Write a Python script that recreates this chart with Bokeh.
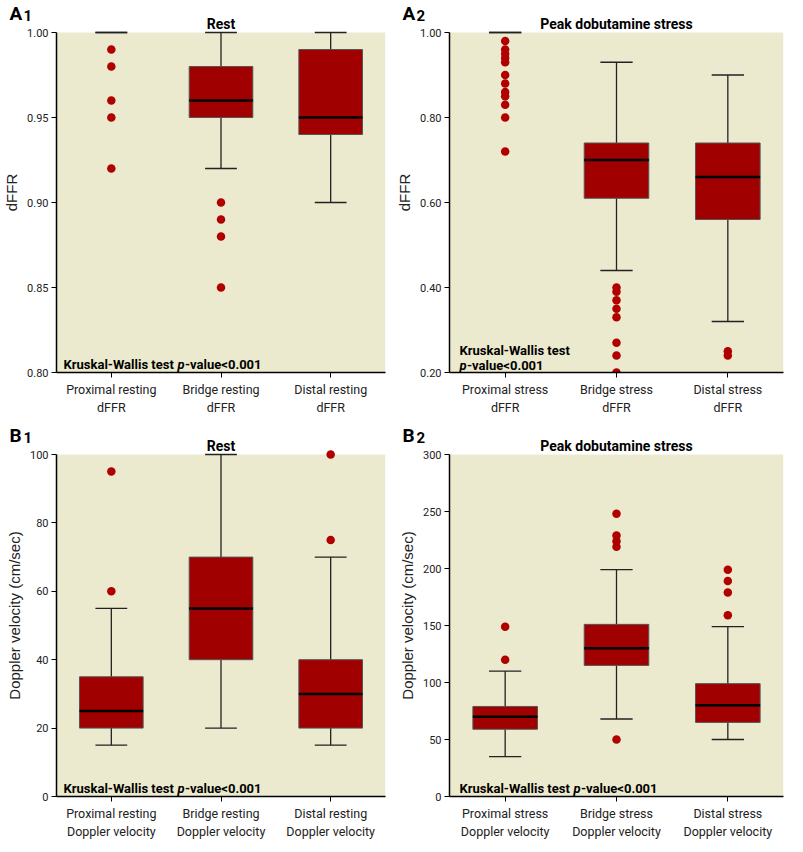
from bokeh.plotting import figure
from bokeh.layouts import gridplot
from bokeh.models import (Range1d, FactorRange, FixedTicker, Label, Title, NumeralTickFormatter,
                          ColumnDataSource, BoxAnnotation)
from bokeh.transform import dodge
from bokeh.embed import file_html
from bokeh.resources import INLINE

NARROW = "Roboto"
REG = "Liberation Sans"

# ---------------- data ----------------
a1_categories = ["Proximal resting\ndFFR", "Bridge resting\ndFFR", "Distal resting\ndFFR"]
a1_lower = [1.00, 0.92, 0.90]
a1_q1 = [1.00, 0.95, 0.94]
a1_median = [1.00, 0.96, 0.95]
a1_q3 = [1.00, 0.98, 0.99]
a1_upper = [1.00, 1.00, 1.00]
a1_outliers = [[0.99, 0.98, 0.96, 0.95, 0.92], [0.90, 0.89, 0.88, 0.85], []]
a1_ticks = [0.80, 0.85, 0.90, 0.95, 1.00]

a2_categories = ["Proximal stress\ndFFR", "Bridge stress\ndFFR", "Distal stress\ndFFR"]
a2_lower = [1.00, 0.44, 0.32]
a2_q1 = [1.00, 0.61, 0.56]
a2_median = [1.00, 0.70, 0.66]
a2_q3 = [1.00, 0.74, 0.74]
a2_upper = [1.00, 0.93, 0.90]
a2_outliers = [[0.98, 0.96, 0.95, 0.94, 0.93, 0.90, 0.88, 0.86, 0.85, 0.83, 0.80, 0.72],
               [0.40, 0.39, 0.37, 0.35, 0.33, 0.27, 0.24, 0.20],
               [0.25, 0.24]]
a2_ticks = [0.20, 0.40, 0.60, 0.80, 1.00]

b1_categories = ["Proximal resting\nDoppler velocity", "Bridge resting\nDoppler velocity",
                 "Distal resting\nDoppler velocity"]
b1_lower = [15, 20, 15]
b1_q1 = [20, 40, 20]
b1_median = [25, 55, 30]
b1_q3 = [35, 70, 40]
b1_upper = [55, 100, 70]
b1_outliers = [[95, 60], [], [100, 75]]
b1_ticks = [0, 20, 40, 60, 80, 100]

b2_categories = ["Proximal stress\nDoppler velocity", "Bridge stress\nDoppler velocity",
                 "Distal stress\nDoppler velocity"]
b2_lower = [35, 68, 50]
b2_q1 = [59, 115, 65]
b2_median = [70, 130, 80]
b2_q3 = [79, 151, 99]
b2_upper = [110, 199, 149]
b2_outliers = [[149, 120], [248, 229, 224, 219, 50], [199, 189, 179, 159]]
b2_ticks = [0, 50, 100, 150, 200, 250, 300]

BG = "#ECEACE"
BOX = "#A00000"
DOT = "#B00000"


def tag_title(text, size, offset, standoff):
    t = Title(text=text, align="left", offset=offset, text_font=NARROW, text_font_style="bold",
              text_font_size=size, text_color="black")
    try:
        t.standoff = standoff
    except Exception:
        t.standoff = 0
    return t


def panel(cats, lower, q1, med, q3, upper, outliers, yr, ticks, fmt, ylabel, title,
          letter, num, kw_lines, width, height, bl, br, frame_top, data_top):
    bb = 46
    ymin, ymax = yr
    span_px = height - bb - data_top
    ext = (ymax - ymin) * (data_top - frame_top) / span_px
    p = figure(width=width, height=height, x_range=FactorRange(*cats),
               y_range=Range1d(ymin, ymax + ext),
               output_backend="svg", toolbar_location=None, tools="",
               min_border_left=bl, min_border_right=br, min_border_top=frame_top,
               min_border_bottom=bb)
    p.background_fill_color = "white"
    p.border_fill_color = "white"
    p.outline_line_color = None
    p.grid.visible = False
    p.x_range.range_padding = 0
    p.title.visible = False

    p.add_layout(BoxAnnotation(bottom=ymin, top=ymax, fill_color=BG, fill_alpha=1,
                               line_color=None, level="underlay"))

    # panel tag: large letter + smaller digit
    p.add_layout(tag_title(letter, "19px", -47, -24), "above")
    p.add_layout(tag_title(num, "15px", -33, -19.5), "above")

    # panel title
    p.add_layout(Label(x=1.5, y=ymax + (ymax - ymin) * 9 / span_px, text=title,
                       text_align="center", text_baseline="alphabetic",
                       text_font=NARROW, text_font_style="bold", text_font_size="14px",
                       text_color="black"))

    for ax in (p.xaxis[0], p.yaxis[0]):
        ax.axis_line_color = "black"
        ax.axis_line_width = 1.5
        ax.major_tick_line_color = "black"
        ax.major_tick_out = 5
        ax.major_tick_in = 0
        ax.minor_tick_line_color = None
        ax.major_label_text_font = NARROW
        ax.major_label_text_color = "#222222"
    p.yaxis.bounds = (ymin, ymax)
    p.yaxis.ticker = FixedTicker(ticks=ticks)
    p.yaxis.formatter = NumeralTickFormatter(format=fmt)
    p.yaxis.major_label_text_font_size = "11px"
    p.yaxis.major_label_standoff = 3
    p.yaxis.axis_label = ylabel
    p.yaxis.axis_label_text_font = REG
    p.yaxis.axis_label_text_font_style = "normal"
    p.yaxis.axis_label_text_font_size = "15px"
    p.yaxis.axis_label_text_color = "#222222"
    p.yaxis.axis_label_standoff = 4
    p.xaxis.major_label_text_font_size = "12.5px"
    p.xaxis.major_label_standoff = 4

    # boxes (skip degenerate boxes)
    idx = [i for i in range(len(cats)) if q3[i] != q1[i]]
    box = ColumnDataSource(dict(x=[cats[i] for i in idx], q1=[q1[i] for i in idx],
                                q3=[q3[i] for i in idx], med=[med[i] for i in idx]))
    src = ColumnDataSource(dict(x=cats, lower=lower, q1=q1, q3=q3, upper=upper))

    p.segment(x0="x", x1="x", y0="q3", y1="upper", source=src, line_color="#222222", line_width=1.3)
    p.segment(x0="x", x1="x", y0="lower", y1="q1", source=src, line_color="#222222", line_width=1.3)
    for key in ("upper", "lower"):
        p.segment(x0=dodge("x", -0.145, range=p.x_range), x1=dodge("x", 0.145, range=p.x_range),
                  y0=key, y1=key, source=src, line_color="#222222", line_width=1.3)
    p.vbar(x="x", top="q3", bottom="q1", width=0.58, source=box,
           fill_color=BOX, line_color="#555555", line_width=1)
    p.segment(x0=dodge("x", -0.29, range=p.x_range), x1=dodge("x", 0.29, range=p.x_range),
              y0="med", y1="med", source=box, line_color="black", line_width=2.5)

    ox, oy = [], []
    for c, vals in zip(cats, outliers):
        for v in vals:
            ox.append(c)
            oy.append(v)
    p.scatter(x=ox, y=oy, size=8.5, fill_color=DOT, line_color=None)

    # Kruskal-Wallis text
    for (x0, y0, pieces) in kw_lines:
        x = x0
        for txt, style, w in pieces:
            p.add_layout(Label(x=x, y=y0, x_units="screen", y_units="screen", text=txt,
                               text_font=NARROW, text_font_style=style, text_font_size="13px",
                               text_color="black", text_baseline="alphabetic"))
            x += w
    return p


def one_line(x0):
    return [(x0, 8, [("Kruskal-Wallis test", "bold", 114), ("p", "bold italic", 7.5),
                     ("-value<0.001", "bold", 0)])]


two_lines = [(10, 22, [("Kruskal-Wallis test", "bold", 0)]),
             (10, 7, [("p", "bold italic", 7.5), ("-value<0.001", "bold", 0)])]

a1 = panel(a1_categories, a1_lower, a1_q1, a1_median, a1_q3, a1_upper, a1_outliers,
           (0.80, 1.00), a1_ticks, "0.00", "dFFR", "Rest", "A", "1", one_line(7),
           393, 418, 48, 8, 12, 32)
a2 = panel(a2_categories, a2_lower, a2_q1, a2_median, a2_q3, a2_upper, a2_outliers,
           (0.20, 1.00), a2_ticks, "0.00", "dFFR", "Peak dobutamine stress", "A", "2", two_lines,
           394, 418, 50, 4, 12, 32)
b1 = panel(b1_categories, b1_lower, b1_q1, b1_median, b1_q3, b1_upper, b1_outliers,
           (0, 100), b1_ticks, "0", "Doppler velocity (cm/sec)", "Rest", "B", "1", one_line(7),
           393, 424, 48, 8, 16, 36)
b2 = panel(b2_categories, b2_lower, b2_q1, b2_median, b2_q3, b2_upper, b2_outliers,
           (0, 300), b2_ticks, "0", "Doppler velocity (cm/sec)", "Peak dobutamine stress", "B", "2",
           one_line(10), 394, 424, 50, 4, 16, 36)

grid = gridplot([[a1, a2], [b1, b2]], toolbar_location=None)
open("out.html", "w").write(file_html(grid, INLINE))
